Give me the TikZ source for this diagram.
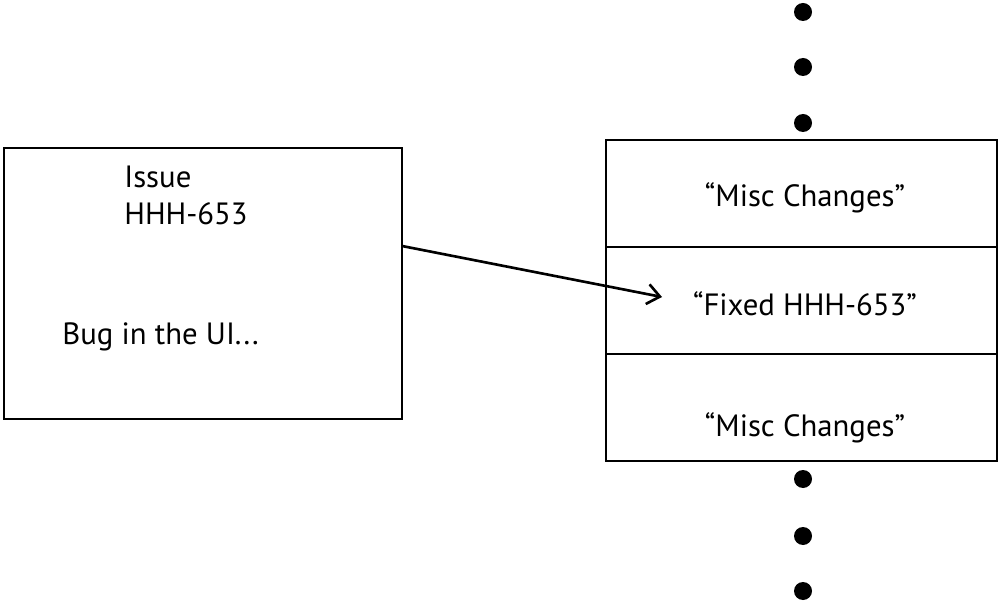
\documentclass[tikz,border=0pt]{standalone}
\usepackage{fontspec}
\setmainfont{PT Sans}
\usetikzlibrary{positioning, arrows.meta}

\begin{document}
\begin{tikzpicture}[node distance=0cm, font=\fontsize{17.5}{20}\selectfont,
    box/.style={rectangle, draw, line width=1.5pt, outer sep=0pt, inner sep=0pt},
    row/.style={box, minimum width=7.82cm, minimum height=2.14cm},
    lbl/.style={inner sep=0pt, anchor=base west},
    commitmsg/.style={inner sep=0pt, anchor=base},
    dot/.style={circle, fill=black, inner sep=0pt, minimum size=0.36cm}]
\useasboundingbox (0,0) rectangle (20,12.06);
% issue card
\node[box, minimum width=7.96cm, minimum height=5.42cm] (issue) at (4.06,6.39) {};
\node[lbl] (title) at (2.48,8.3) {Issue};
\node[lbl] (key) at (2.48,7.56) {HHH-653};
\node[lbl] (desc) at (1.24,5.16) {Bug in the UI...};
% commit history
\node[row] (row1) at (16.03,8.19) {};
\node[row, below=of row1] (row2) {};
\node[row, below=of row2] (row3) {};
\node[commitmsg] (msg1) at (16.1,7.92) {``Misc Changes''};
\node[commitmsg] (msg2) at (16.1,5.74) {``Fixed HHH-653''};
\node[commitmsg] (msg3) at (16.1,3.32) {``Misc Changes''};
\foreach \y [count=\i] in {11.82,10.72,9.6} {
  \node[dot] (above\i) at (16.06,\y) {};
}
\foreach \y [count=\i] in {2.48,1.34,0.24} {
  \node[dot] (below\i) at (16.06,\y) {};
}
% link from issue to commit
\coordinate (link) at (13.24,6.12);
\draw[-{Straight Barb[length=2.5mm, width=4mm]}, line width=1.5pt] ([yshift=0.75cm]issue.east) -- (link);
\end{tikzpicture}
\end{document}
